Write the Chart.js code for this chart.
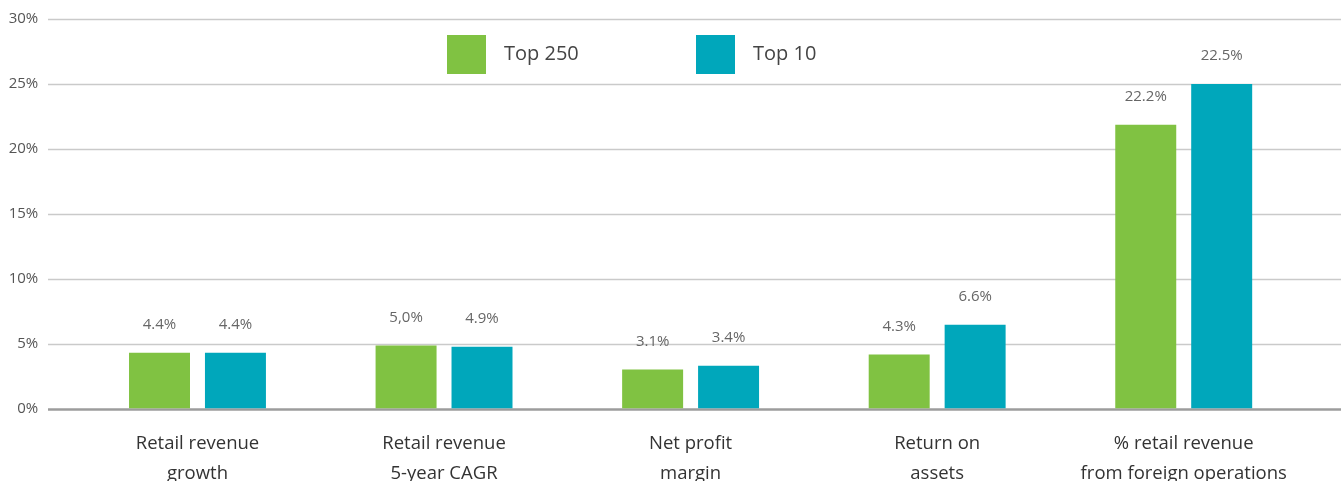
<!DOCTYPE html>
<html lang="en">
<head>
    <meta charset="UTF-8">
    <title>Top 250 vs Top 10 retailers</title>
    <script src="https://cdn.jsdelivr.net/npm/chart.js"></script>
    <style>
        html, body { margin: 0; padding: 0; background: #fff; }
        #wrap { width: 1341px; height: 481px; position: relative; }
    </style>
</head>
<body>
<div id="wrap"><canvas id="barChart"></canvas></div>

<script>
    // data
    const categories = [
        ['Retail revenue', 'growth'],
        ['Retail revenue', '5-year CAGR'],
        ['Net profit', 'margin'],
        ['Return on', 'assets'],
        ['% retail revenue', 'from foreign operations']
    ];
    const top250Values = [4.3, 4.85, 3.0, 4.15, 21.85];
    const top10Values = [4.3, 4.75, 3.3, 6.45, 25.0];
    // printed labels above the bars (as shown in the picture)
    const top250Labels = ['4.4%', '5,0%', '3.1%', '4.3%', '22.2%'];
    const top10Labels = ['4.4%', '4.9%', '3.4%', '6.6%', '22.5%'];
    const seriesNames = ['Top 250', 'Top 10'];
    const seriesColors = ['#80c242', '#00a7bb'];

    const FONT = '"Open Sans", "Noto Sans", sans-serif';

    // horizontal grid lines, running wider than the plot area
    const gridPlugin = {
        id: 'wideGrid',
        beforeDatasetsDraw(chart) {
            const ctx = chart.ctx;
            const y = chart.scales.y;
            ctx.save();
            y.ticks.forEach(t => {
                const py = Math.round(y.getPixelForValue(t.value)) + 0.5;
                ctx.beginPath();
                ctx.lineWidth = t.value === 0 ? 2.5 : 1.5;
                ctx.strokeStyle = t.value === 0 ? '#9c9c9c' : '#cacaca';
                ctx.moveTo(48, py);
                ctx.lineTo(chart.width, py);
                ctx.stroke();
            });
            ctx.restore();
        }
    };

    // value labels above each bar
    const valueLabels = {
        id: 'valueLabels',
        afterDatasetsDraw(chart) {
            const ctx = chart.ctx;
            const texts = [top250Labels, top10Labels];
            ctx.save();
            ctx.font = '15px ' + FONT;
            ctx.fillStyle = '#666';
            ctx.textAlign = 'center';
            ctx.textBaseline = 'middle';
            chart.data.datasets.forEach((ds, i) => {
                chart.getDatasetMeta(i).data.forEach((bar, j) => {
                    ctx.fillText(texts[i][j], bar.x, bar.y - 28);
                });
            });
            ctx.restore();
        }
    };

    // legend drawn inside the plot, near the top
    const insideLegend = {
        id: 'insideLegend',
        afterDraw(chart) {
            const ctx = chart.ctx;
            const boxX = [447, 696];
            ctx.save();
            ctx.font = '20px ' + FONT;
            ctx.textBaseline = 'middle';
            ctx.textAlign = 'left';
            chart.data.datasets.forEach((ds, i) => {
                ctx.fillStyle = ds.backgroundColor;
                ctx.fillRect(boxX[i], 35, 39, 39);
                ctx.fillStyle = '#444';
                ctx.fillText(ds.label, boxX[i] + 57, 54);
            });
            ctx.restore();
        }
    };

    new Chart(document.getElementById('barChart'), {
        type: 'bar',
        data: {
            labels: categories,
            datasets: [
                { label: seriesNames[0], data: top250Values, backgroundColor: seriesColors[0] },
                { label: seriesNames[1], data: top10Values, backgroundColor: seriesColors[1] }
            ]
        },
        options: {
            responsive: true,
            maintainAspectRatio: false,
            animation: false,
            categoryPercentage: 0.616,
            barPercentage: 0.803,
            layout: { padding: { top: 19, right: 34, left: 0, bottom: 0 } },
            plugins: {
                legend: { display: false },
                tooltip: { enabled: false }
            },
            scales: {
                x: {
                    grid: { display: false, drawTicks: false },
                    border: { display: false },
                    ticks: {
                        color: '#333',
                        font: { family: FONT, size: 18.5, lineHeight: 1.58 },
                        padding: 21,
                        maxRotation: 0,
                        autoSkip: false
                    },
                    afterFit(scale) { scale.height = 72.5; }
                },
                y: {
                    min: 0,
                    max: 30,
                    grid: { display: false, drawTicks: false },
                    border: { display: false },
                    ticks: {
                        stepSize: 5,
                        color: '#555',
                        padding: 36,
                        font: { family: FONT, size: 15 },
                        callback: v => v + '%'
                    },
                    afterFit(scale) {
                        scale.width = 74.2;
                        // tick padding is meant to be horizontal only
                        scale.paddingTop = 0;
                        scale.paddingBottom = 0;
                    }
                }
            }
        },
        plugins: [gridPlugin, valueLabels, insideLegend]
    });
</script>
</body>
</html>
